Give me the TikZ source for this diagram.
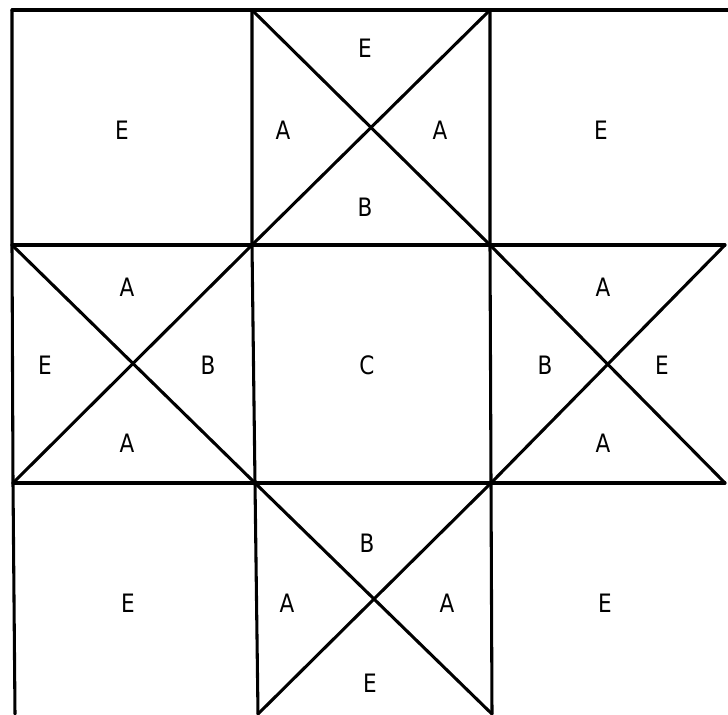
\documentclass[tikz,border=0pt]{standalone}
\usepackage{fontspec}
\setmainfont{DejaVu Sans}
\begin{document}
\begin{tikzpicture}[x=0.75pt,y=-0.75pt,
  ln/.style={line width=2.3pt,line cap=round,line join=round},
  lbl/.style={font=\fontsize{19}{19}\selectfont\addfontfeature{FakeStretch=0.85},inner sep=0pt}]
\useasboundingbox (0,0) rectangle (728,714);
% grid coordinates
\coordinate (a0) at (12,10);  \coordinate (a1) at (252,10);  \coordinate (a2) at (490,10);  \coordinate (a3) at (728,10);
\coordinate (b0) at (12,245); \coordinate (b1) at (252,245); \coordinate (b2) at (490,245); \coordinate (b3) at (725,245);
\coordinate (c0) at (13,483); \coordinate (c1) at (255,483); \coordinate (c2) at (491,483); \coordinate (c3) at (725,483);
\coordinate (d0) at (15,714); \coordinate (d1) at (258,714); \coordinate (d2) at (492,714);
% grid lines
\draw[ln] (a0) -- (a3);
\draw[ln] (b0) -- (b3);
\draw[ln] (c0) -- (c3);
\draw[ln] (a0) -- (b0) -- (c0) -- (d0);
\draw[ln] (a1) -- (b1) -- (c1) -- (d1);
\draw[ln] (a2) -- (b2) -- (c2) -- (d2);
% diagonals
\draw[ln] (a1) -- (b2);
\draw[ln] (a2) -- (b1);
\draw[ln] (b0) -- (c1);
\draw[ln] (c0) -- (b1);
\draw[ln] (b2) -- (c3);
\draw[ln] (c2) -- (b3);
\draw[ln] (c1) -- (d2);
\draw[ln] (c2) -- (d1);
% labels
\node[lbl] (l1) at (122,130) {E};
\node[lbl] (l2) at (365,48) {E};
\node[lbl] (l3) at (283,130) {A};
\node[lbl] (l4) at (440,130) {A};
\node[lbl] (l5) at (365,207) {B};
\node[lbl] (l6) at (601,130) {E};
\node[lbl] (l7) at (127,287) {A};
\node[lbl] (l8) at (45,365) {E};
\node[lbl] (l9) at (208,365) {B};
\node[lbl] (l10) at (127,443) {A};
\node[lbl] (l11) at (367,365) {C};
\node[lbl] (l12) at (603,287) {A};
\node[lbl] (l13) at (545,365) {B};
\node[lbl] (l14) at (662,365) {E};
\node[lbl] (l15) at (603,443) {A};
\node[lbl] (l16) at (128,603) {E};
\node[lbl] (l17) at (367,543) {B};
\node[lbl] (l18) at (287,603) {A};
\node[lbl] (l19) at (447,603) {A};
\node[lbl] (l20) at (370,683) {E};
\node[lbl] (l21) at (605,603) {E};
\end{tikzpicture}
\end{document}
